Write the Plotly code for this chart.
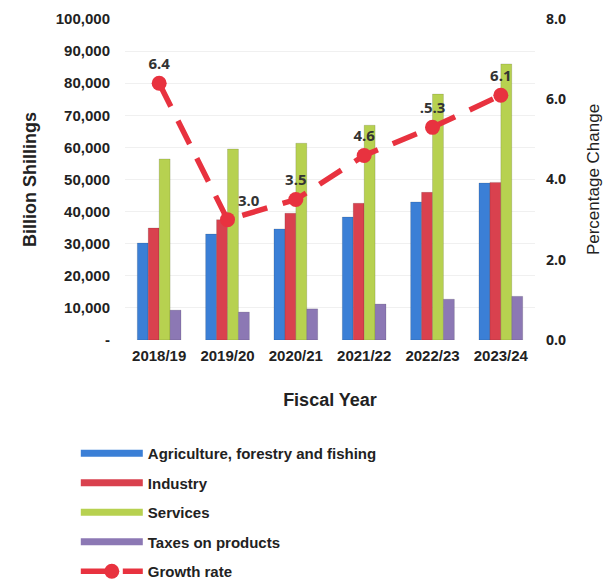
import plotly.graph_objects as go

years = ["2018/19", "2019/20", "2020/21", "2021/22", "2022/23", "2023/24"]
agriculture = [30200, 33000, 34600, 38300, 43000, 48900]
industry = [34900, 37500, 39500, 42600, 46000, 49100]
services = [56400, 59500, 61300, 66900, 76600, 86000]
taxes = [9300, 8700, 9700, 11200, 12700, 13600]
growth = [6.4, 3.0, 3.5, 4.6, 5.3, 6.1]
growth_labels = ["6.4", "3.0", "3.5", "4.6", ".5.3", "6.1"]

left_ticks = [0, 10000, 20000, 30000, 40000, 50000, 60000, 70000, 80000, 90000, 100000]
left_ticktext = ["-", "10,000", "20,000", "30,000", "40,000", "50,000", "60,000",
                 "70,000", "80,000", "90,000", "100,000"]
right_ticks = [0, 2, 4, 6, 8]
right_ticktext = ["0.0", "2.0", "4.0", "6.0", "8.0"]

colors = ["#3b7fd6", "#d9414e", "#b7d150", "#8c78b4"]
names = ["Agriculture, forestry and fishing", "Industry", "Services", "Taxes on products"]
series = [agriculture, industry, services, taxes]

fig = go.Figure()
for nm, vals, c in zip(names, series, colors):
    fig.add_trace(go.Bar(x=years, y=vals, name=nm, legendgroup=nm,
                         marker=dict(color=c, line=dict(width=0.5, color="rgba(0,0,0,0.25)")),
                         showlegend=False))
    # legend entry drawn as a thick bar-like line
    fig.add_trace(go.Scatter(x=[None], y=[None], name=nm, legendgroup=nm, mode="lines",
                             line=dict(color=c, width=7), showlegend=True, hoverinfo="skip"))

fig.add_trace(go.Scatter(
    x=years, y=growth, name="Growth rate", yaxis="y2", legendgroup="growth",
    mode="lines+markers+text",
    line=dict(color="#e8323f", width=5.5, dash="26px,16px"),
    marker=dict(color="#e8323f", size=15),
    text=growth_labels,
    textposition=["top center", "top right", "top center", "top center", "top center", "top center"],
    textfont=dict(family="Open Sans", size=15, color="#333333", weight="bold"),
))

fig.update_layout(
    width=614, height=583,
    margin=dict(l=125, r=79, t=19, b=243, autoexpand=False),
    paper_bgcolor="white", plot_bgcolor="white",
    barmode="group", bargap=0.36, bargroupgap=0,
    font=dict(family="Liberation Sans", color="#222222"),
    xaxis=dict(
        tickfont=dict(family="Liberation Sans", size=15, color="#222222", weight="bold"),
        title=dict(text="Fiscal Year", font=dict(size=18, family="Liberation Sans", weight="bold"), standoff=30),
        showline=False, ticks="", ticklabelstandoff=5,
    ),
    yaxis=dict(
        range=[0, 100000], tickvals=left_ticks, ticktext=left_ticktext,
        tickfont=dict(family="Liberation Sans", size=15, color="#222222", weight="bold"),
        showgrid=True, gridcolor="#f0f0f0", zeroline=False,
        ticklabelstandoff=14,
        title=dict(text="Billion Shillings", font=dict(size=18, family="Liberation Sans", weight="bold"), standoff=14),
    ),
    yaxis2=dict(
        range=[0, 8], tickvals=right_ticks, ticktext=right_ticktext,
        overlaying="y", side="right", showgrid=False, zeroline=False,
        tickfont=dict(family="Open Sans", size=14, color="#222222", weight="bold"),
        ticklabelstandoff=10,
        title=dict(text="Percentage Change", font=dict(size=17, family="Liberation Sans", color="#222222"), standoff=22),
    ),
    legend=dict(
        orientation="v", x=-0.12, y=-0.302, xanchor="left", yanchor="top",
        font=dict(family="Liberation Sans", size=15, color="#222222", weight="bold"),
        tracegroupgap=7, itemwidth=62, traceorder="grouped",
        bgcolor="rgba(0,0,0,0)",
    ),
    showlegend=True,
)

fig.write_html("out.html")
